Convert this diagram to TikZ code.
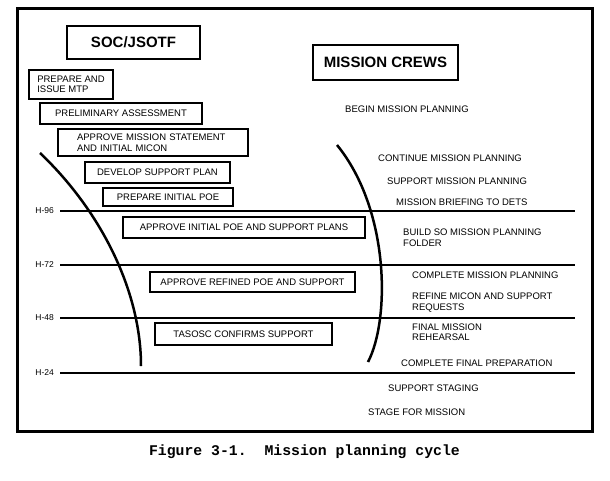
\documentclass[tikz,border=0pt]{standalone}
\usepackage{fontspec}
\setmainfont{Liberation Sans}
\newfontfamily\capfont{Liberation Mono}
\usetikzlibrary{positioning}

\tikzset{
  head/.style={draw, line width=2.6pt, inner sep=0pt, font=\fontsize{15}{17}\selectfont\bfseries},
  task/.style={draw, line width=1.6pt, inner sep=0pt, font=\fontsize{9.5}{10.5}\selectfont},
  crew/.style={anchor=west, align=left, inner sep=0pt, font=\fontsize{9.5}{10.5}\selectfont},
  hour/.style={anchor=east, inner sep=0pt, font=\fontsize{8.5}{10}\selectfont},
  hline/.style={line width=2pt},
}

\begin{document}
\begin{tikzpicture}[x=1pt, y=-1pt]
        \useasboundingbox (0,0) rectangle (610,480);
        % frame
        \draw[line width=3pt] (17,8) rectangle (592,431);
        % headings
        \node[head, minimum width=133pt, minimum height=33pt] (soc) at (133.5,42.5) {SOC/JSOTF};
        \node[head, minimum width=145pt, minimum height=35pt] (crews) at (385.5,62.5) {MISSION CREWS};
        % SOC/JSOTF tasks
        \node[task, minimum width=84pt, minimum height=29pt, align=left,
              font=\fontsize{9.5}{10}\selectfont] (mtp) at (71,84.5) {PREPARE AND\\ISSUE MTP};
        \node[task, minimum width=162pt, minimum height=21pt] (prelim) at (121,113.5) {PRELIMINARY ASSESSMENT};
        \node[task, minimum width=190pt, minimum height=27pt, align=left, text width=152pt] (approvems) at (153,142.5) {APPROVE MISSION STATEMENT\\AND INITIAL MICON};
        \node[task, minimum width=145pt, minimum height=21pt] (devplan) at (157.5,172.5) {DEVELOP SUPPORT PLAN};
        \node[task, minimum width=130pt, minimum height=18pt] (initpoe) at (168,197) {PREPARE INITIAL POE};
        \node[task, minimum width=242pt, minimum height=21pt] (approvepoe) at (244,227.5) {APPROVE INITIAL POE AND SUPPORT PLANS};
        \node[task, minimum width=205pt, minimum height=20pt] (refined) at (252.5,282) {APPROVE REFINED POE AND SUPPORT};
        \node[task, minimum width=177pt, minimum height=22pt] (tasosc) at (243.5,334) {TASOSC CONFIRMS SUPPORT};
        % time lines
        \node[hour] (h96) at (54,211) {H-96};
        \node[hour] (h72) at (54,265) {H-72};
        \node[hour] (h48) at (54,318) {H-48};
        \node[hour] (h24) at (54,373) {H-24};
        \coordinate (e96) at (575,211);
        \coordinate (e72) at (575,265);
        \coordinate (e48) at (575,318);
        \coordinate (e24) at (575,373);
        \draw[hline] ([xshift=6pt]h96.east) -- (e96);
        \draw[hline] ([xshift=6pt]h72.east) -- (e72);
        \draw[hline, line width=1.5pt] ([xshift=6pt]h48.east) -- (e48);
        \draw[hline] ([xshift=6pt]h24.east) -- (e24);
        % arcs
        \draw[line width=2.5pt] (40,153) .. controls (100,210) and (141,290) .. (141,366);
        \draw[line width=2.5pt] (337,145) .. controls (390,210) and (390,320) .. (368,362);
        % Mission crews tasks
        \node[crew] (begin) at (345,109) {BEGIN MISSION PLANNING};
        \node[crew] (cont) at (378,158) {CONTINUE MISSION PLANNING};
        \node[crew] (supp) at (387,181) {SUPPORT MISSION PLANNING};
        \node[crew] (brief) at (396,202) {MISSION BRIEFING TO DETS};
        \node[crew] (folder) at (403,237.5) {BUILD SO MISSION PLANNING\\ FOLDER};
        \node[crew] (complete) at (412,275) {COMPLETE MISSION PLANNING};
        \node[crew] (refine) at (412,302.5) {REFINE MICON AND SUPPORT\\REQUESTS};
        \node[crew, font=\fontsize{9.5}{10}\selectfont] (rehearse) at (412,332) {FINAL MISSION\\REHEARSAL};
        \node[crew] (finalprep) at (401,363) {COMPLETE FINAL PREPARATION};
        \node[crew] (staging) at (388,388) {SUPPORT STAGING};
        \node[crew] (stage) at (368,412) {STAGE FOR MISSION};
        % caption
        \node[font=\fontsize{14.8}{16}\capfont\bfseries] (caption) at (304.5,452) {Figure 3-1.\ \ Mission planning cycle};
\end{tikzpicture}
\end{document}
